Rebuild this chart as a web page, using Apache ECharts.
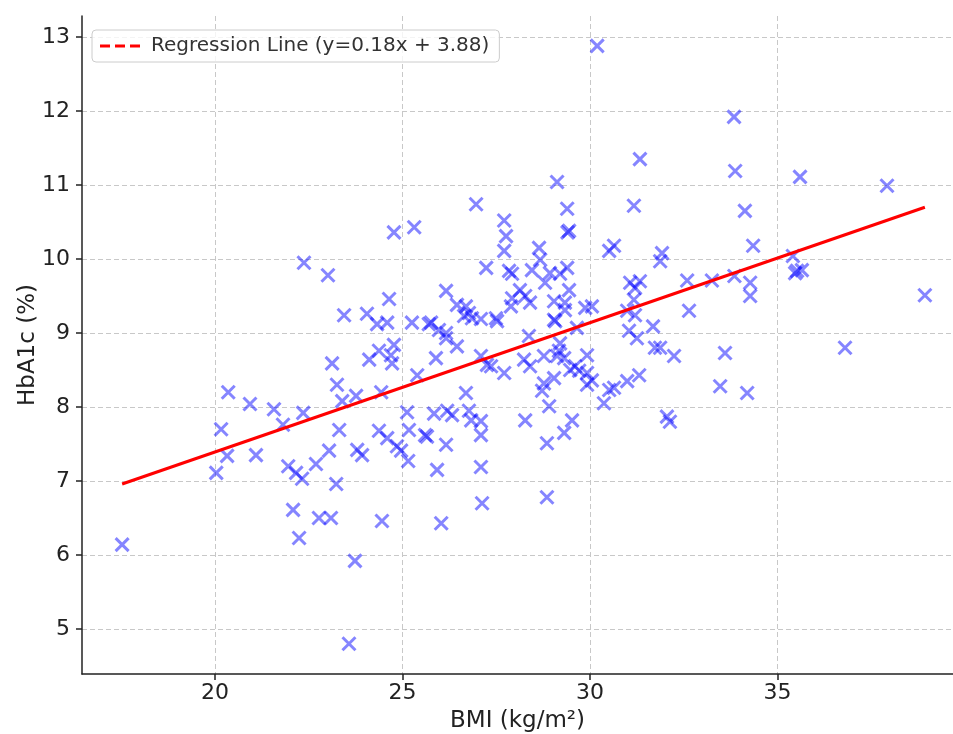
<!DOCTYPE html>
<html>
<head>
<meta charset="utf-8">
<script src="https://cdn.jsdelivr.net/npm/echarts@6/dist/echarts.min.js"></script>
<style>
  html, body { margin: 0; padding: 0; background: #fff; }
  #bmi_scatter { width: 953px; height: 734px; }
</style>
</head>
<body>
<div id="bmi_scatter"></div>
<script>
// BMI vs HbA1c points
var bmiPoints = [
    [17.52, 6.14], [20.03, 7.11], [20.16, 7.70], [20.35, 8.20], [20.32, 7.34],
    [20.93, 8.04], [21.09, 7.35], [21.57, 7.97], [21.81, 7.76], [21.95, 7.20],
    [22.16, 7.11], [22.08, 6.61], [22.24, 6.23], [22.35, 7.92], [22.32, 7.03],
    [22.69, 7.23], [22.37, 9.95], [23.01, 9.78], [22.77, 6.50], [23.09, 6.50],
    [23.23, 6.96], [23.12, 8.59], [23.25, 8.30], [23.39, 8.08], [23.31, 7.69],
    [23.04, 7.41], [23.44, 9.24], [23.57, 4.80], [23.73, 5.92], [23.76, 8.15],
    [23.79, 7.42], [23.92, 7.35], [24.05, 9.26], [24.11, 8.64], [24.32, 9.12],
    [24.37, 8.76], [24.43, 8.20], [24.37, 7.68], [24.45, 6.46], [24.59, 9.14],
    [24.64, 9.46], [24.59, 7.58], [24.69, 8.70], [24.72, 8.59], [24.77, 8.84],
    [24.77, 10.36], [24.85, 7.47], [24.96, 7.41], [25.12, 7.93], [25.17, 7.69],
    [25.15, 7.27], [25.25, 9.14], [25.31, 10.43], [25.39, 8.43], [25.60, 7.62],
    [25.65, 7.60], [25.76, 9.14], [25.70, 9.12], [25.84, 7.91], [25.89, 8.66],
    [25.92, 7.15], [25.97, 9.04], [26.03, 6.43], [26.16, 9.57], [26.16, 9.00],
    [26.16, 8.93], [26.19, 7.95], [26.16, 7.49], [26.32, 7.89], [26.45, 9.38],
    [26.45, 8.82], [26.64, 9.23], [26.69, 9.36], [26.69, 8.19], [26.77, 9.27],
    [26.77, 7.95], [26.83, 7.82], [26.85, 9.20], [26.96, 10.74], [27.09, 9.19],
    [27.09, 8.69], [27.09, 7.81], [27.09, 7.62], [27.09, 7.19], [27.12, 6.70],
    [27.23, 9.88], [27.25, 8.57], [27.36, 8.55], [27.49, 9.20], [27.52, 9.16],
    [27.71, 8.46], [27.71, 10.52], [27.76, 10.31], [27.71, 10.11], [27.84, 9.84],
    [27.92, 9.80], [27.92, 9.47], [27.89, 9.36], [28.13, 9.58], [28.27, 9.50],
    [28.40, 9.41], [28.37, 8.96], [28.24, 8.64], [28.40, 8.55], [28.27, 7.82],
    [28.45, 9.85], [28.64, 10.15], [28.67, 9.99], [28.77, 8.69], [28.77, 8.32],
    [28.72, 8.22], [28.80, 9.68], [28.85, 7.51], [28.85, 6.78], [28.91, 8.01],
    [28.93, 9.81], [29.04, 9.43], [29.04, 9.18], [29.07, 9.16], [29.04, 8.39],
    [29.12, 11.04], [29.12, 8.69], [29.17, 8.76], [29.20, 9.80], [29.20, 8.86],
    [29.31, 8.66], [29.31, 7.65], [29.33, 9.41], [29.33, 9.31], [29.39, 10.68],
    [29.39, 9.88], [29.44, 10.38], [29.40, 10.36], [29.44, 9.58], [29.47, 8.50],
    [29.52, 7.82], [29.60, 8.55], [29.65, 9.07], [29.71, 8.49], [29.87, 9.34],
    [29.92, 8.70], [29.92, 8.46], [29.92, 8.30], [30.05, 9.36], [30.05, 8.36],
    [30.19, 12.88], [30.37, 8.05], [30.51, 10.11], [30.51, 8.23], [30.64, 10.18],
    [30.64, 8.26], [30.99, 9.30], [30.99, 8.35], [31.04, 9.03], [31.07, 9.68],
    [31.17, 10.72], [31.17, 9.45], [31.20, 9.61], [31.20, 9.24], [31.25, 8.93],
    [31.31, 8.43], [31.33, 9.70], [31.33, 11.35], [31.68, 9.09], [31.73, 8.80],
    [31.87, 8.80], [31.87, 9.97], [31.92, 10.08], [32.05, 7.87], [32.13, 7.80],
    [32.24, 8.69], [32.59, 9.71], [32.64, 9.30], [33.25, 9.71], [33.47, 8.28],
    [33.60, 8.73], [33.84, 11.92], [33.87, 11.19], [33.85, 9.77], [34.13, 10.65],
    [34.19, 8.19], [34.27, 9.68], [34.27, 9.50], [34.35, 10.18], [35.41, 10.04],
    [35.47, 9.81], [35.52, 9.84], [35.60, 11.11], [35.65, 9.85], [36.80, 8.80],
    [37.92, 10.99], [38.93, 9.51]
];

// regression line end points
var regLine = [[17.52, 6.96], [38.93, 10.70]];
var regName = 'Regression Line (y=0.18x + 3.88)';

var xTicks = [20, 25, 30, 35];
var yTicks = [5, 6, 7, 8, 9, 10, 11, 12, 13];

var chartBmi = echarts.init(document.getElementById('bmi_scatter'));

var fontFam = '"DejaVu Sans", sans-serif';

option = {
    animation: false,
    textStyle: { fontFamily: fontFam },
    grid: {
        left: 82,
        top: 16,
        right: 0,
        height: 658,
        containLabel: false,
        outerBoundsMode: 'none'
    },
    legend: {
        left: 92,
        top: 30,
        padding: [6, 10, 6, 8],
        itemWidth: 40,
        itemHeight: 4,
        itemGap: 14,
        backgroundColor: 'rgba(255,255,255,0.8)',
        borderColor: '#cccccc',
        borderWidth: 1,
        borderRadius: 4,
        textStyle: { fontSize: 20, color: '#333', fontFamily: fontFam, padding: [0, 0, 0, 6] },
        data: [{
            name: regName,
            icon: 'path://M0,0H10V3H0Z M15,0H25V3H15Z M30,0H40V3H30Z'
        }]
    },
    xAxis: {
        type: 'value',
        min: 16.45,
        max: 39.68,
        name: 'BMI (kg/m²)',
        nameLocation: 'middle',
        nameGap: 36,
        nameMoveOverlap: false,
        nameTextStyle: { fontSize: 23, color: '#222', fontFamily: fontFam, verticalAlign: 'top' },
        axisLine: { lineStyle: { color: '#222', width: 1.5 } },
        axisTick: { show: true, length: 6, inside: false, customValues: xTicks, lineStyle: { color: '#222', width: 1.5 } },
        axisLabel: { customValues: xTicks, fontSize: 22, color: '#222', margin: 8, fontFamily: fontFam },
        splitLine: { show: true, lineStyle: { color: '#c8c8c8', type: [5, 3], width: 1 } }
    },
    yAxis: {
        type: 'value',
        min: 4.392,
        max: 13.284,
        name: 'HbA1c (%)',
        nameLocation: 'middle',
        nameGap: 42,
        nameMoveOverlap: false,
        nameTextStyle: { fontSize: 23, color: '#222', fontFamily: fontFam },
        axisLine: { show: true, lineStyle: { color: '#222', width: 1.5 } },
        axisTick: { show: true, length: 6, customValues: yTicks, lineStyle: { color: '#222', width: 1.5 } },
        axisLabel: { customValues: yTicks, fontSize: 22, color: '#222', margin: 12, fontFamily: fontFam },
        splitLine: { show: true, lineStyle: { color: '#c8c8c8', type: [5, 3], width: 1 } }
    },
    series: [
        {
            name: 'points',
            type: 'scatter',
            symbol: 'path://M0,0L10,10M10,0L0,10',
            symbolSize: 13,
            itemStyle: {
                color: 'rgba(0,0,0,0)',
                borderColor: 'rgba(0,0,255,0.6)',
                borderWidth: 3
            },
            emphasis: { disabled: true },
            data: bmiPoints
        },
        {
            name: regName,
            type: 'line',
            symbol: 'none',
            lineStyle: { color: 'red', width: 3 },
            itemStyle: { color: 'red' },
            data: regLine
        }
    ]
};

chartBmi.setOption(option);
</script>
</body>
</html>
